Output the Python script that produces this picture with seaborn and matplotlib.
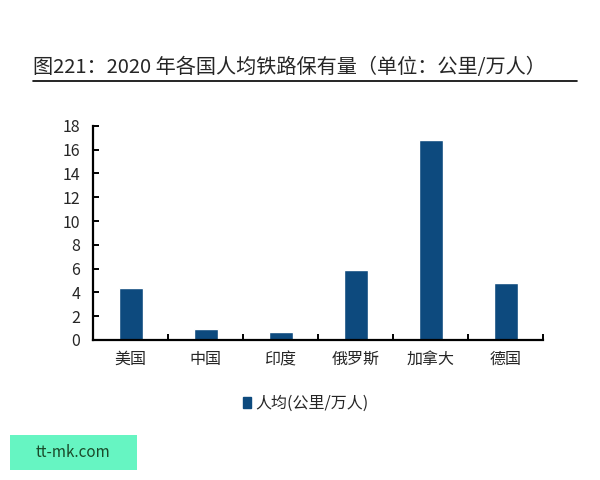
import numpy as np
import pandas as pd
import seaborn as sns
import matplotlib
matplotlib.use("Agg")
import matplotlib.pyplot as plt
from matplotlib.lines import Line2D
from matplotlib.patches import Rectangle

countries = ["美国", "中国", "印度", "俄罗斯", "加拿大", "德国"]
per_capita = [4.4, 0.95, 0.65, 5.85, 16.8, 4.8]
yticks = [0, 2, 4, 6, 8, 10, 12, 14, 16, 18]
series_name = "人均(公里/万人)"
title = "图221：2020 年各国人均铁路保有量（单位：公里/万人）"

sns.set_style("white")
plt.rcParams['font.family'] = ['Noto Sans CJK SC', 'DejaVu Sans']

df = pd.DataFrame({"country": countries, "value": per_capita})
bar_color = "#0d4a7e"

fig = plt.figure(figsize=(6, 4.8), dpi=100)
ax = fig.add_axes([0.155, 0.2917, 0.75, 0.446])
sns.barplot(data=df, x="country", y="value", color=bar_color, width=0.32,
            saturation=1, label=series_name, ax=ax)

ax.set_ylim(0, 18)
ax.set_xlim(-0.5, len(countries) - 0.5)
ax.set_yticks(yticks)
ax.set_xlabel("")
ax.set_ylabel("")
for s in ["top", "right"]:
    ax.spines[s].set_visible(False)
for s in ["left", "bottom"]:
    ax.spines[s].set_color("black")
    ax.spines[s].set_linewidth(1.6)

# tick marks at the category boundaries
ax.set_xticks(np.arange(-0.5, len(countries)), minor=True)
ax.tick_params(axis="x", which="major", bottom=True, length=0, labelsize=11.5, pad=8)
ax.tick_params(axis="x", which="minor", bottom=True, length=4, width=1.4,
               direction="in", color="black")
ax.tick_params(axis="y", left=True, length=4, width=1.4, direction="in",
               color="black", labelsize=11.5, pad=9)

if ax.get_legend():
    ax.get_legend().remove()
fig.legend(handles=[Rectangle((0, 0), 1, 1, color=bar_color)], labels=[series_name],
           loc="center", bbox_to_anchor=(0.51, 0.16), frameon=False,
           fontsize=11.5, handlelength=0.45, handleheight=0.7, handletextpad=0.3)

fig.text(0.055, 0.86, title, fontsize=14.5, ha="left", va="center")
fig.add_artist(Line2D([0.055, 0.962], [0.831, 0.831], color="black", lw=1.2))

fig.patches.append(Rectangle((0.017, 0.021), 0.212, 0.073, transform=fig.transFigure,
                             facecolor="#66f5c2", edgecolor="none"))
fig.text(0.122, 0.058, "tt-mk.com", fontsize=11, color="#1a4a2a", ha="center", va="center")

fig.savefig("out.png", dpi=100)
